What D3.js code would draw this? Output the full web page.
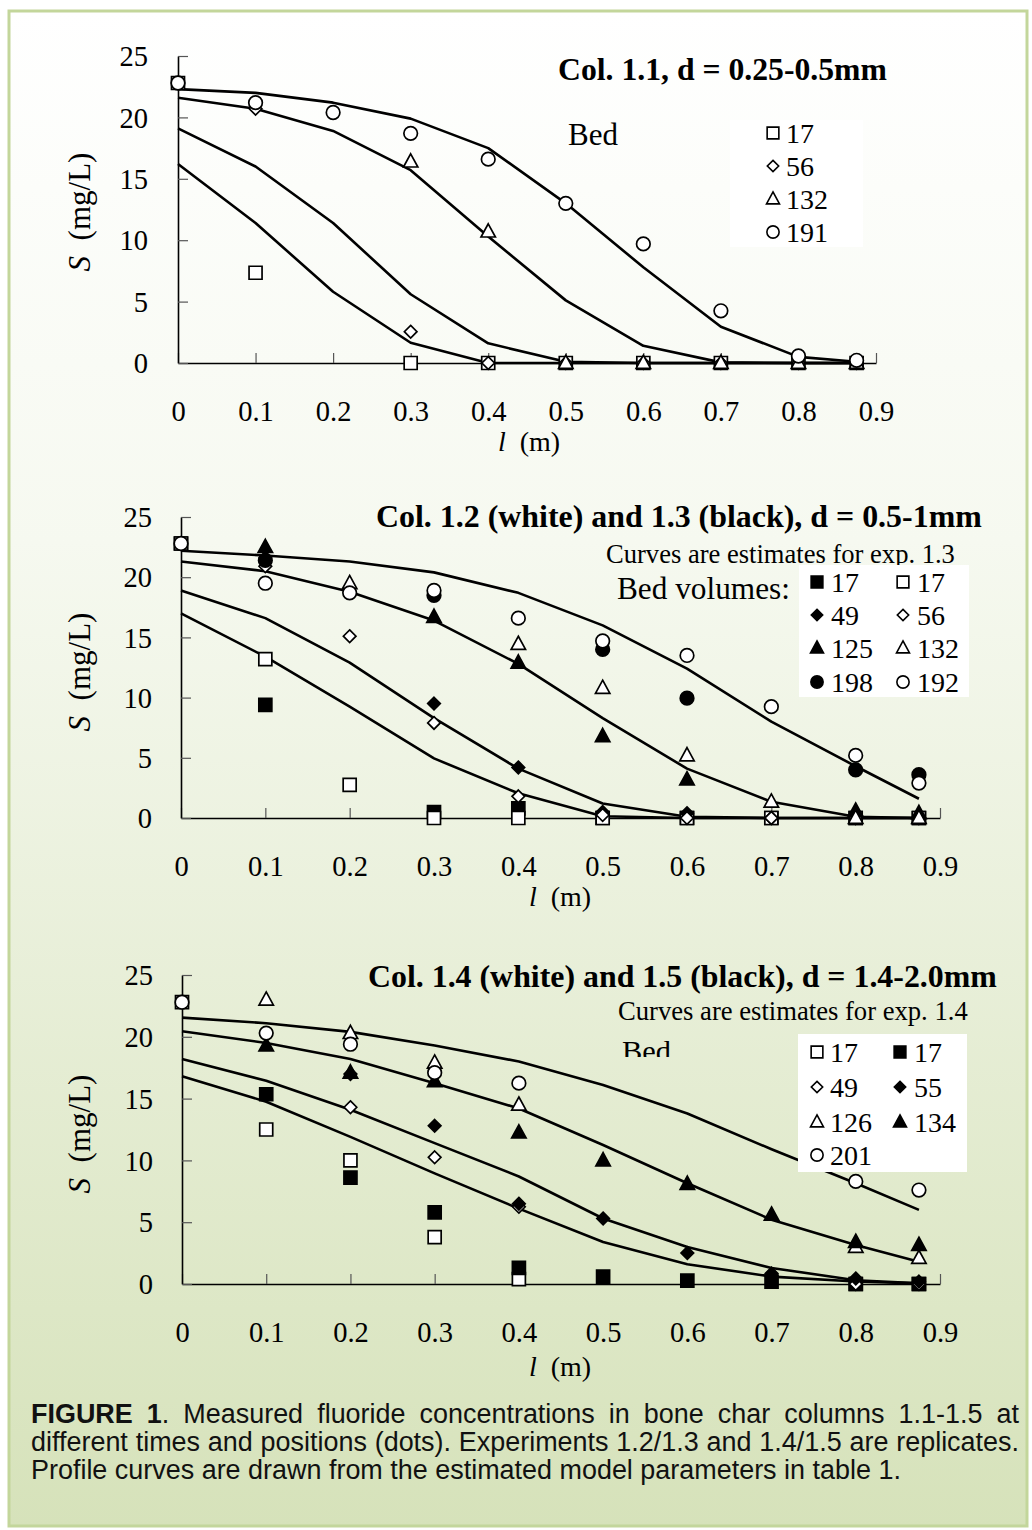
<!DOCTYPE html>
<html><head><meta charset="utf-8">
<script src="https://cdn.jsdelivr.net/npm/d3@7/dist/d3.min.js"></script>
<style>body{margin:0;background:#fff}svg{display:block}</style>
</head><body><svg id="c" width="1032" height="1530"></svg>
<script>
// ---------------- DATA ----------------
const xTicks = [0, 0.1, 0.2, 0.3, 0.4, 0.5, 0.6, 0.7, 0.8, 0.9];
const xTickLabels = ["0", "0.1", "0.2", "0.3", "0.4", "0.5", "0.6", "0.7", "0.8", "0.9"];
const yTicks = [0, 5, 10, 15, 20, 25];
const yTickLabels = ["0", "5", "10", "15", "20", "25"];
const curveX = [0, 0.1, 0.2, 0.3, 0.4, 0.5, 0.6, 0.7, 0.8, 0.875];

// Panel 1: Col. 1.1
const p1Curve17  = [16.2, 11.4, 5.8, 1.65, 0, 0, 0, 0, 0, 0];
const p1Curve56  = [19.1, 16.0, 11.4, 5.6, 1.6, 0.1, 0, 0, 0, 0];
const p1Curve132 = [21.6, 20.7, 18.9, 15.7, 10.3, 5.1, 1.4, 0.05, 0, 0];
const p1Curve191 = [22.3, 22.0, 21.2, 19.9, 17.5, 13.0, 7.8, 2.95, 0.5, 0.1];
const p1Sq17   = [[0,22.8],[0.1,7.35],[0.3,0],[0.4,0],[0.5,0],[0.6,0],[0.7,0],[0.8,0],[0.875,0]];
const p1Dia56  = [[0,22.8],[0.1,20.7],[0.3,2.55],[0.4,0],[0.5,0],[0.6,0],[0.7,0],[0.8,0],[0.875,0]];
const p1Tri132 = [[0.3,16.4],[0.4,10.7],[0.5,0],[0.6,0],[0.7,0],[0.8,0],[0.875,0]];
const p1Cir191 = [[0,22.8],[0.1,21.2],[0.2,20.4],[0.3,18.7],[0.4,16.6],[0.5,13.0],[0.6,9.7],[0.7,4.25],[0.8,0.57],[0.875,0.22]];

// Panel 2: Col. 1.2 (white) and 1.3 (black)
const p2Curve17  = [17.0, 13.4, 9.25, 4.95, 2.05, 0.15, 0, 0, 0, 0];
const p2Curve49  = [18.9, 16.6, 12.9, 8.3, 4.1, 1.2, 0.1, 0, 0, 0];
const p2Curve125 = [21.3, 20.5, 18.8, 16.4, 12.8, 8.3, 4.1, 1.35, 0.1, 0];
const p2Curve198 = [22.2, 21.8, 21.3, 20.4, 18.7, 16.0, 12.4, 8.0, 4.3, 1.6];
const p2BSq17   = [[0,22.8],[0.1,9.4],[0.3,0.5],[0.4,0.8],[0.5,0],[0.6,0],[0.7,0],[0.8,0],[0.875,0]];
const p2WSq17   = [[0,22.8],[0.1,13.2],[0.2,2.75],[0.3,0],[0.4,0],[0.5,0],[0.6,0],[0.7,0],[0.8,0],[0.875,0]];
const p2BDia49  = [[0.1,21.6],[0.3,9.5],[0.4,4.2],[0.5,0.5],[0.6,0.4],[0.7,0],[0.8,0],[0.875,0]];
const p2WDia56  = [[0.1,20.9],[0.2,15.1],[0.3,7.9],[0.4,1.8],[0.5,0.25],[0.6,0],[0.7,0],[0.8,0],[0.875,0]];
const p2BTri125 = [[0.1,22.5],[0.3,16.7],[0.4,12.9],[0.5,6.8],[0.6,3.2],[0.8,0.6],[0.875,0.4]];
const p2WTri132 = [[0.2,19.5],[0.4,14.45],[0.5,10.8],[0.6,5.2],[0.7,1.35],[0.8,0],[0.875,0]];
const p2BCir198 = [[0.1,21.4],[0.3,18.5],[0.5,14.0],[0.6,9.95],[0.8,4.0],[0.875,3.6]];
const p2WCir192 = [[0,22.8],[0.1,19.5],[0.2,18.7],[0.3,18.9],[0.4,16.6],[0.5,14.7],[0.6,13.5],[0.7,9.25],[0.8,5.2],[0.875,2.9]];

// Panel 3: Col. 1.4 (white) and 1.5 (black)
const p3Curve17  = [16.8, 14.75, 11.9, 8.95, 6.1, 3.4, 1.6, 0.6, 0.2, 0.05];
const p3Curve49  = [18.2, 16.45, 14.1, 11.4, 8.7, 5.3, 3.0, 1.3, 0.3, 0.05];
const p3Curve126 = [20.45, 19.5, 18.2, 16.25, 14.2, 11.25, 8.15, 5.2, 3.15, 1.8];
const p3Curve201 = [21.55, 21.1, 20.4, 19.3, 18.0, 16.1, 13.8, 10.9, 8.15, 6.0];
const p3WSq17   = [[0,22.8],[0.1,12.5],[0.2,10.0],[0.3,3.8],[0.4,0.4],[0.8,0],[0.875,0]];
const p3BSq17   = [[0.1,15.35],[0.2,8.6],[0.3,5.8],[0.4,1.3],[0.5,0.6],[0.6,0.27],[0.7,0.2],[0.8,0],[0.875,0]];
const p3WDia49  = [[0.2,14.3],[0.3,10.25],[0.4,6.25],[0.8,0],[0.875,0]];
const p3BDia55  = [[0.2,17.0],[0.3,12.8],[0.4,6.5],[0.5,5.3],[0.6,2.5],[0.7,0.85],[0.8,0.45],[0.875,0.2]];
const p3WTri126 = [[0.1,23.0],[0.2,20.3],[0.3,17.9],[0.4,14.5],[0.8,3.0],[0.875,2.1]];
const p3BTri134 = [[0.1,19.3],[0.2,17.1],[0.3,16.4],[0.4,12.25],[0.5,10.0],[0.6,8.1],[0.7,5.6],[0.8,3.4],[0.875,3.15]];
const p3WCir201 = [[0,22.8],[0.1,20.3],[0.2,19.4],[0.3,17.1],[0.4,16.25],[0.8,8.3],[0.875,7.6]];

const captionLines = [
  [[["FIGURE", true]], [["1", true], [".", false]], "Measured", "fluoride", "concentrations", "in", "bone", "char", "columns", "1.1-1.5", "at"],
  ["different", "times", "and", "positions", "(dots).", "Experiments", "1.2/1.3", "and", "1.4/1.5", "are", "replicates."],
  "Profile curves are drawn from the estimated model parameters in table 1."
];

// ---------------- DRAWING ----------------
const SERIF = "'Liberation Serif','Times New Roman',Times,serif";
const SANS = "'Liberation Sans',Arial,Helvetica,sans-serif";
const svg = d3.select('#c');
const defs = svg.append('defs');
const grad = defs.append('linearGradient').attr('id', 'bg').attr('x1', 0).attr('y1', 0).attr('x2', 0).attr('y2', 1);
grad.append('stop').attr('offset', '0%').attr('stop-color', '#ffffff');
grad.append('stop').attr('offset', '35%').attr('stop-color', '#f6f9f0');
grad.append('stop').attr('offset', '100%').attr('stop-color', '#d6e2ba');
svg.append('rect').attr('x', 9).attr('y', 11).attr('width', 1018).attr('height', 1515)
  .attr('fill', 'url(#bg)').attr('stroke', '#c3d69b').attr('stroke-width', 3);

function shapePath(shape) {
  if (shape === 'square') return 'M-6.5,-6.5H6.5V6.5H-6.5Z';
  if (shape === 'diamond') return 'M0,-6.3L6.3,0L0,6.3L-6.3,0Z';
  if (shape === 'triangle') return 'M0,-7.8L7.2,5.4L-7.2,5.4Z';
  return d3.symbol(d3.symbolCircle, Math.PI * 6.8 * 6.8)();
}

function fitText(sel, width) {
  const w = sel.node().getComputedTextLength();
  const fs = parseFloat(sel.attr('font-size'));
  sel.attr('font-size', fs * width / w);
  return sel;
}

function drawPanel(cfg) {
  const x = d3.scaleLinear().domain([0, 0.9]).range([cfg.x0, cfg.x1]);
  const y = d3.scaleLinear().domain([0, 25]).range([cfg.y0, cfg.y1]);
  const g = svg.append('g');

  // axes
  const ax = g.append('g').attr('transform', `translate(0,${cfg.y0})`)
    .call(d3.axisBottom(x).tickValues(xTicks).tickFormat((d, i) => xTickLabels[i]).tickSize(-10).tickSizeOuter(0).tickPadding(38));
  const ay = g.append('g').attr('transform', `translate(${cfg.x0},0)`)
    .call(d3.axisLeft(y).tickValues(yTicks).tickFormat((d, i) => yTickLabels[i]).tickSize(-10).tickSizeOuter(0).tickPadding(cfg.yPad));
  [ax, ay].forEach(a => {
    a.select('.domain').attr('stroke', '#000').attr('stroke-width', 1.6);
    a.selectAll('.tick line').attr('stroke', '#555').attr('stroke-width', 1.2);
    a.selectAll('.tick text').attr('font-family', SERIF).attr('font-size', 28.5).attr('fill', '#000');
  });
  ay.selectAll('.tick text').attr('dy', '0.34em');

  // axis titles
  const xt = g.append('text').attr('x', cfg.xTitleX).attr('y', cfg.xTitleY).attr('text-anchor', 'middle')
    .attr('font-family', SERIF).attr('font-size', 28).style('white-space', 'pre');
  xt.append('tspan').attr('font-style', 'italic').text('l');
  xt.append('tspan').text('  (m)');
  const yt = g.append('text').attr('transform', `translate(${cfg.yTitleX},${cfg.yTitleY}) rotate(-90)`)
    .attr('text-anchor', 'middle').attr('font-family', SERIF).attr('font-size', 31).style('white-space', 'pre');
  yt.append('tspan').attr('font-style', 'italic').text('S');
  yt.append('tspan').text('  (mg/L)');

  // curves
  const line = d3.line().x(d => x(d[0])).y(d => y(d[1]));
  cfg.curves.forEach(c => {
    g.append('path').datum(curveX.map((xv, i) => [xv, c[i]]))
      .attr('d', line).attr('fill', 'none').attr('stroke', '#000').attr('stroke-width', 2.6).attr('stroke-linejoin', 'round');
  });

  // points
  cfg.series.forEach(s => {
    g.append('g').selectAll('path').data(s.data).join('path')
      .attr('transform', d => `translate(${x(d[0])},${y(d[1])})`)
      .attr('d', shapePath(s.shape)).attr('fill', s.fill).attr('stroke', '#000').attr('stroke-width', 1.7);
  });

  // texts
  cfg.texts.forEach(t => {
    const el = g.append('text').attr('x', t.x).attr('y', t.y).attr('font-family', SERIF)
      .attr('font-size', t.size).attr('font-weight', t.bold ? 'bold' : 'normal').text(t.text);
    if (t.clip) el.attr('clip-path', `url(#${t.clip})`);
    if (t.w) fitText(el, t.w);
  });

  // legend
  const L = cfg.legend;
  g.append('rect').attr('x', L.x).attr('y', L.y).attr('width', L.w).attr('height', L.h).attr('fill', '#fff');
  L.cols.forEach(col => {
    col.items.forEach((it, i) => {
      const cy = L.rows[i];
      g.append('path').attr('transform', `translate(${col.mx},${cy}) scale(0.9)`)
        .attr('d', shapePath(it.shape)).attr('fill', it.fill).attr('stroke', '#000').attr('stroke-width', 1.8);
      g.append('text').attr('x', col.tx).attr('y', cy + 10).attr('font-family', SERIF).attr('font-size', 28).text(it.label);
    });
  });
}

defs.append('clipPath').attr('id', 'bedclip').append('rect').attr('x', 600).attr('y', 1020).attr('width', 100).attr('height', 37);

drawPanel({
  x0: 178, x1: 876, y0: 363, y1: 56, yPad: 30,
  xTitleX: 529, xTitleY: 451, yTitleX: 90, yTitleY: 212,
  curves: [p1Curve17, p1Curve56, p1Curve132, p1Curve191],
  series: [
    {data: p1Sq17, shape: 'square', fill: '#fff'},
    {data: p1Dia56, shape: 'diamond', fill: '#fff'},
    {data: p1Tri132, shape: 'triangle', fill: '#fff'},
    {data: p1Cir191, shape: 'circle', fill: '#fff'}
  ],
  texts: [
    {text: 'Col. 1.1, d = 0.25-0.5mm', x: 558, y: 80, size: 30, bold: true, w: 329},
    {text: 'Bed', x: 568, y: 145, size: 30, w: 50}
  ],
  legend: {x: 730, y: 120, w: 133, h: 127, rows: [133, 166, 199, 232],
    cols: [{mx: 773, tx: 786, items: [
      {shape: 'square', fill: '#fff', label: '17'},
      {shape: 'diamond', fill: '#fff', label: '56'},
      {shape: 'triangle', fill: '#fff', label: '132'},
      {shape: 'circle', fill: '#fff', label: '191'}]}]}
});

drawPanel({
  x0: 181, x1: 940, y0: 818, y1: 517, yPad: 29,
  xTitleX: 560, xTitleY: 906, yTitleX: 90, yTitleY: 672,
  curves: [p2Curve17, p2Curve49, p2Curve125, p2Curve198],
  series: [
    {data: p2BSq17, shape: 'square', fill: '#000'},
    {data: p2WSq17, shape: 'square', fill: '#fff'},
    {data: p2BDia49, shape: 'diamond', fill: '#000'},
    {data: p2WDia56, shape: 'diamond', fill: '#fff'},
    {data: p2BTri125, shape: 'triangle', fill: '#000'},
    {data: p2WTri132, shape: 'triangle', fill: '#fff'},
    {data: p2BCir198, shape: 'circle', fill: '#000'},
    {data: p2WCir192, shape: 'circle', fill: '#fff'}
  ],
  texts: [
    {text: 'Col. 1.2 (white) and 1.3 (black), d = 0.5-1mm', x: 376, y: 527, size: 30, bold: true, w: 606},
    {text: 'Curves are estimates for exp. 1.3', x: 606, y: 563, size: 24, w: 349},
    {text: 'Bed volumes:', x: 617, y: 599, size: 30, w: 173}
  ],
  legend: {x: 799, y: 565, w: 170, h: 132, rows: [582, 615, 648, 682],
    cols: [
      {mx: 817, tx: 831, items: [
        {shape: 'square', fill: '#000', label: '17'},
        {shape: 'diamond', fill: '#000', label: '49'},
        {shape: 'triangle', fill: '#000', label: '125'},
        {shape: 'circle', fill: '#000', label: '198'}]},
      {mx: 903, tx: 917, items: [
        {shape: 'square', fill: '#fff', label: '17'},
        {shape: 'diamond', fill: '#fff', label: '56'},
        {shape: 'triangle', fill: '#fff', label: '132'},
        {shape: 'circle', fill: '#fff', label: '192'}]}]}
});

drawPanel({
  x0: 182, x1: 940, y0: 1284, y1: 975, yPad: 29,
  xTitleX: 560, xTitleY: 1376, yTitleX: 90, yTitleY: 1134,
  curves: [p3Curve17, p3Curve49, p3Curve126, p3Curve201],
  series: [
    {data: p3WSq17, shape: 'square', fill: '#fff'},
    {data: p3BSq17, shape: 'square', fill: '#000'},
    {data: p3WDia49, shape: 'diamond', fill: '#fff'},
    {data: p3BDia55, shape: 'diamond', fill: '#000'},
    {data: p3WTri126, shape: 'triangle', fill: '#fff'},
    {data: p3BTri134, shape: 'triangle', fill: '#000'},
    {data: p3WCir201, shape: 'circle', fill: '#fff'}
  ],
  texts: [
    {text: 'Col. 1.4 (white) and 1.5 (black), d = 1.4-2.0mm', x: 368, y: 987, size: 30, bold: true, w: 629},
    {text: 'Curves are estimates for exp. 1.4', x: 618, y: 1020, size: 24, w: 350},
    {text: 'Bed', x: 622, y: 1061, size: 30, w: 49, clip: 'bedclip'}
  ],
  legend: {x: 798, y: 1034, w: 169, h: 138, rows: [1052, 1087, 1122, 1155],
    cols: [
      {mx: 817, tx: 830, items: [
        {shape: 'square', fill: '#fff', label: '17'},
        {shape: 'diamond', fill: '#fff', label: '49'},
        {shape: 'triangle', fill: '#fff', label: '126'},
        {shape: 'circle', fill: '#fff', label: '201'}]},
      {mx: 900, tx: 914, items: [
        {shape: 'square', fill: '#000', label: '17'},
        {shape: 'diamond', fill: '#000', label: '55'},
        {shape: 'triangle', fill: '#000', label: '134'}]}]}
});

// caption
const capG = svg.append('g').attr('font-family', SANS).attr('fill', '#111');
const capLeft = 31, capRight = 1019, capBase = [1423, 1451, 1479];
// font size from the last (unjustified) line
const last = capG.append('text').attr('x', capLeft).attr('y', capBase[2]).attr('font-size', 20).text(captionLines[2]);
fitText(last, 870);
const capFs = parseFloat(last.attr('font-size'));
[0, 1].forEach(li => {
  const words = captionLines[li].map(w => {
    const segs = typeof w === 'string' ? [[w, false]] : w;
    const t = capG.append('text').attr('y', capBase[li]).attr('font-size', capFs);
    segs.forEach(s => t.append('tspan').attr('font-weight', s[1] ? 'bold' : 'normal').text(s[0]));
    return t;
  });
  const widths = words.map(t => t.node().getComputedTextLength());
  const total = d3.sum(widths);
  const gap = (capRight - capLeft - total) / (words.length - 1);
  let cx = capLeft;
  words.forEach((t, i) => { t.attr('x', cx); cx += widths[i] + gap; });
});
</script>
</body></html>
